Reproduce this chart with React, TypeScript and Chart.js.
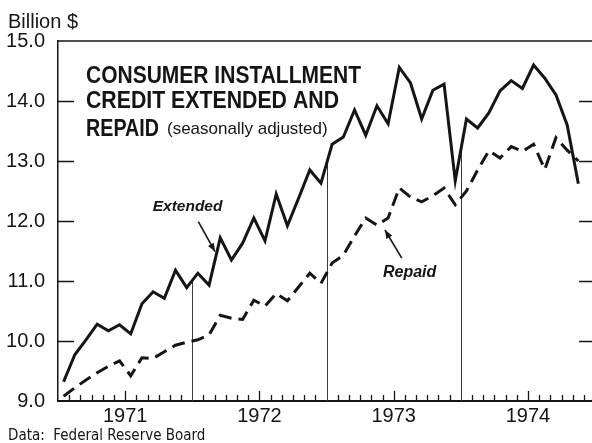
import React, { useEffect, useRef } from "react";
import { Chart, registerables } from "chart.js";

Chart.register(...registerables);

// Monthly values, Jan 1971 – Nov 1974, billion $ (seasonally adjusted)
const extended = [
  9.32, 9.77, 10.02, 10.28, 10.17, 10.27, 10.12, 10.62, 10.82, 10.71, 11.18, 10.89,
  11.13, 10.93, 11.72, 11.35, 11.63, 12.05, 11.67, 12.45, 11.92, 12.38, 12.85, 12.63,
  13.28, 13.4, 13.85, 13.43, 13.92, 13.62, 14.56, 14.3, 13.7, 14.18, 14.28, 12.67,
  13.7, 13.55, 13.8, 14.17, 14.34, 14.21, 14.6, 14.38, 14.1, 13.6, 12.62,
];
const repaid = [
  9.08, 9.22, 9.35, 9.47, 9.58, 9.67, 9.42, 9.72, 9.71, 9.82, 9.93, 9.98,
  10.02, 10.1, 10.43, 10.38, 10.36, 10.68, 10.58, 10.79, 10.67, 10.9, 11.13, 10.96,
  11.3, 11.43, 11.75, 12.05, 11.93, 12.05, 12.55, 12.4, 12.32, 12.42, 12.55, 12.27,
  12.5, 12.85, 13.17, 13.05, 13.24, 13.16, 13.28, 12.86, 13.39, 13.18, 13.0,
];
const years = ["1971", "1972", "1973", "1974"];
const yTickValues = [9, 10, 11, 12, 13, 14, 15];
const titleLines = ["CONSUMER INSTALLMENT", "CREDIT EXTENDED AND", "REPAID"];
const subtitle = "(seasonally adjusted)";
const unitLabel = "Billion $";
const sourceLabel = "Data:  Federal Reserve Board";

const INK = "#151515";

const overlay = {
  id: "overlay",
  beforeDatasetsDraw(chart: any) {
    const { ctx, scales } = chart;
    const xs = scales.x;
    const ys = scales.y;
    ctx.save();
    ctx.strokeStyle = "#3a3a3a";
    ctx.lineWidth = 1;
    // year boundary lines up to the Extended curve
    [12, 24, 36].forEach((b) => {
      const v = (extended[b - 1] + extended[b]) / 2;
      const x = Math.round(xs.getPixelForValue(b)) + 0.5;
      ctx.beginPath();
      ctx.moveTo(x, ys.getPixelForValue(9));
      ctx.lineTo(x, ys.getPixelForValue(v));
      ctx.stroke();
    });
    ctx.restore();
  },
  afterDraw(chart: any) {
    const { ctx, scales, chartArea } = chart;
    const xs = scales.x;
    const ys = scales.y;
    const bottom = ys.getPixelForValue(9);
    const top = ys.getPixelForValue(15);
    ctx.save();
    ctx.strokeStyle = INK;
    // month ticks
    ctx.lineWidth = 1.3;
    for (let k = 1; k < 48; k++) {
      if (k % 12 === 0) continue;
      const x = Math.round(xs.getPixelForValue(k)) + 0.5;
      const len = k % 12 === 6 ? 10 : 6;
      ctx.beginPath();
      ctx.moveTo(x, bottom);
      ctx.lineTo(x, bottom - len);
      ctx.stroke();
    }
    // value ticks left and right
    ctx.lineWidth = 1.3;
    const rightEdge = xs.getPixelForValue(48);
    for (let v = 10; v <= 14; v++) {
      const y = Math.round(ys.getPixelForValue(v)) + 0.5;
      ctx.beginPath();
      ctx.moveTo(chartArea.left, y);
      ctx.lineTo(chartArea.left + 16, y);
      ctx.moveTo(rightEdge - 16, y);
      ctx.lineTo(rightEdge, y);
      ctx.stroke();
    }
    // top frame
    ctx.lineWidth = 1.5;
    ctx.beginPath();
    ctx.moveTo(chartArea.left, top);
    ctx.lineTo(chart.width, top);
    ctx.stroke();

    // texts
    ctx.fillStyle = INK;
    ctx.textBaseline = "alphabetic";
    ctx.textAlign = "left";
    ctx.font = '20px "Liberation Sans", Arial, sans-serif';
    ctx.fillText(unitLabel, 8, 28, 73);

    const tx = chartArea.left + 28;
    ctx.font = 'bold 23px "Liberation Sans", Arial, sans-serif';
    ctx.fillText(titleLines[0], tx, 83, 275);
    ctx.fillText(titleLines[1], tx, 108, 253);
    ctx.fillText(titleLines[2], tx, 136, 73);
    ctx.font = '17px "Liberation Sans", Arial, sans-serif';
    ctx.fillText(subtitle, 167, 134, 163);

    ctx.font = '15px "DejaVu Sans Condensed", "Liberation Sans", sans-serif';
    ctx.fillText(sourceLabel, 8, 440, 222);

    // annotations
    const drawArrow = (x1: number, y1: number, x2: number, y2: number) => {
      const p1x = xs.getPixelForValue(x1), p1y = ys.getPixelForValue(y1);
      const p2x = xs.getPixelForValue(x2), p2y = ys.getPixelForValue(y2);
      ctx.lineWidth = 1.6;
      ctx.beginPath();
      ctx.moveTo(p1x, p1y);
      ctx.lineTo(p2x, p2y);
      ctx.stroke();
      const ang = Math.atan2(p2y - p1y, p2x - p1x);
      const L = 9, W = 0.38;
      ctx.beginPath();
      ctx.moveTo(p2x, p2y);
      ctx.lineTo(p2x - L * Math.cos(ang - W), p2y - L * Math.sin(ang - W));
      ctx.lineTo(p2x - L * Math.cos(ang + W), p2y - L * Math.sin(ang + W));
      ctx.closePath();
      ctx.fill();
    };
    ctx.font = 'italic bold 15.5px "Liberation Sans", Arial, sans-serif';
    ctx.fillText("Extended", xs.getPixelForValue(8.46), ys.getPixelForValue(12.17));
    drawArrow(12.54, 11.99, 14.03, 11.49);
    ctx.font = 'italic bold 16px "Liberation Sans", Arial, sans-serif';
    ctx.fillText("Repaid", xs.getPixelForValue(29.04), ys.getPixelForValue(11.07));
    drawArrow(30.72, 11.38, 29.22, 11.85);
    ctx.restore();
  },
};

export default function App() {
  const ref = useRef<HTMLCanvasElement | null>(null);
  useEffect(() => {
    if (!ref.current) return;
    const chart = new Chart(ref.current, {
      type: "line",
      data: {
        datasets: [
          {
            label: "Extended",
            data: extended.map((v, i) => ({ x: i + 0.5, y: v })),
            borderColor: INK,
            borderWidth: 3,
            pointRadius: 0,
            tension: 0,
            borderJoinStyle: "miter",
          },
          {
            label: "Repaid",
            data: repaid.map((v, i) => ({ x: i + 0.5, y: v })),
            borderColor: INK,
            borderWidth: 3,
            borderDash: [13, 7],
            pointRadius: 0,
            tension: 0,
          },
        ],
      },
      options: {
        animation: false,
        responsive: false,
        maintainAspectRatio: false,
        layout: { padding: { top: 41, left: 0, right: 0, bottom: 0 } },
        plugins: { legend: { display: false }, tooltip: { enabled: false }, title: { display: false } },
        scales: {
          x: {
            type: "linear",
            min: 0,
            max: 47.72,
            grid: { display: false, drawTicks: false },
            border: { display: true, color: INK, width: 2 },
            afterBuildTicks: (s: any) => {
              s.ticks = years.map((_, i) => ({ value: 6 + 12 * i }));
            },
            afterFit: (s: any) => {
              s.height = 42;
            },
            ticks: {
              autoSkip: false,
              maxRotation: 0,
              padding: 3,
              color: INK,
              font: { family: '"Liberation Sans", Arial, sans-serif', size: 20 },
              callback: (v: any) => years[Math.round((Number(v) - 6) / 12)] ?? "",
            },
          },
          y: {
            min: 9,
            max: 15,
            afterBuildTicks: (s: any) => {
              s.ticks = yTickValues.map((v) => ({ value: v }));
            },
            afterFit: (s: any) => {
              s.width = 58;
            },
            grid: { display: false, drawTicks: false },
            border: { display: true, color: INK, width: 1.5 },
            ticks: {
              padding: 13,
              color: INK,
              font: { family: '"Liberation Sans", Arial, sans-serif', size: 20 },
              callback: (v: any) => Number(v).toFixed(1),
            },
          },
        },
      },
      plugins: [overlay],
    });
    return () => chart.destroy();
  }, []);
  return (
    <div style={{ position: "fixed", left: 0, top: 0, width: 592, height: 443, background: "#fff" }}>
      <canvas ref={ref} width={592} height={443} style={{ width: 592, height: 443 }} />
    </div>
  );
}
